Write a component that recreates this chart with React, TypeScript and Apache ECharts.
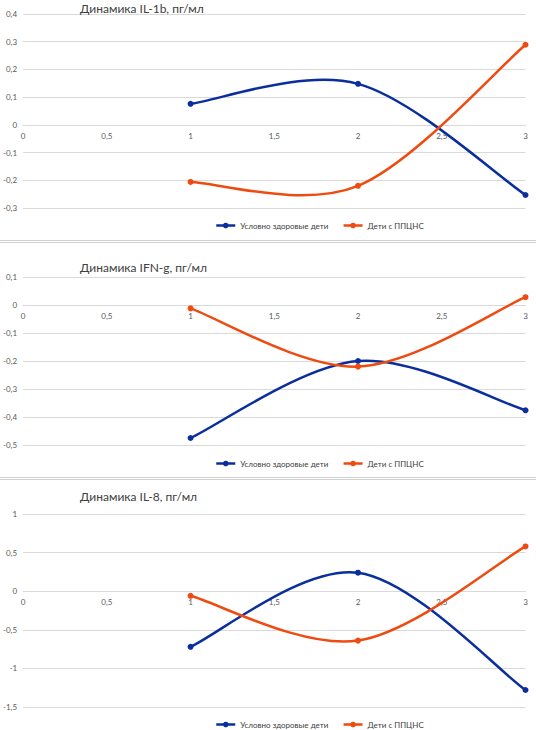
import React, { useEffect, useRef } from "react";
import * as echarts from "echarts";

const xValues = [1, 2, 3];
const seriesNames = ["Условно здоровые дети", "Дети с ППЦНС"];
const titles = ["Динамика IL-1b, пг/мл", "Динамика IFN-g, пг/мл", "Динамика IL-8, пг/мл"];

const il1bHealthy = [0.076, 0.148, -0.253];
const il1bPpcns = [-0.206, -0.22, 0.289];
const ifngHealthy = [-0.475, -0.2, -0.376];
const ifngPpcns = [-0.012, -0.22, 0.028];
const il8Healthy = [-0.72, 0.24, -1.28];
const il8Ppcns = [-0.06, -0.64, 0.58];

const yMins = [-0.3, -0.5, -1.5];
const yMaxs = [0.4, 0.1, 1];
const yIntervals = [0.1, 0.1, 0.5];

const BLUE = "#0a2e9e";
const ORANGE = "#ee4b10";
const FONT = "Lato";

const fmt = (v: number) => String(Math.round(v * 10) / 10).replace(".", ",");

export default function App() {
  const ref = useRef<HTMLDivElement>(null);
  useEffect(() => {
    if (!ref.current) return;
    const chart = echarts.init(ref.current, undefined, { renderer: "svg" });
    const healthy = [il1bHealthy, ifngHealthy, il8Healthy];
    const ppcns = [il1bPpcns, ifngPpcns, il8Ppcns];
    const grids = [
      { left: 23, top: 14, width: 502.5, height: 194 },
      { left: 23, top: 277, width: 502.5, height: 168 },
      { left: 23, top: 514, width: 502.5, height: 193 },
    ];
    const titleTops = [2, 261, 490];
    const legendTops = [221.5, 459.5, 720.5];

    const lineSeries: any[] = [];
    const curveSeries: any[] = [];
    [0, 1, 2].forEach((i) => {
      [healthy[i], ppcns[i]].forEach((arr, k) => {
        const col = k === 0 ? BLUE : ORANGE;
        const data = xValues.map((x, j) => [x, arr[j]]);
        lineSeries.push({
          name: seriesNames[k],
          type: "line",
          xAxisIndex: i,
          yAxisIndex: i,
          symbol: "circle",
          symbolSize: 6,
          z: 3,
          color: col,
          lineStyle: { width: 2.5, color: col, opacity: 0 },
          itemStyle: { color: col },
          data,
        });
        curveSeries.push({
          name: seriesNames[k],
          type: "custom",
          xAxisIndex: i,
          yAxisIndex: i,
          z: 2,
          silent: true,
          data,
          renderItem: (params: any, api: any) => {
            const idx = params.dataIndex;
            const n = data.length;
            if (idx >= n - 1) return null;
            const P = (j: number) => {
              const jj = Math.max(0, Math.min(n - 1, j));
              return api.coord(data[jj]);
            };
            const p0 = P(idx - 1);
            const p1 = P(idx);
            const p2 = P(idx + 1);
            const p3 = P(idx + 2);
            return {
              type: "bezierCurve",
              shape: {
                x1: p1[0],
                y1: p1[1],
                x2: p2[0],
                y2: p2[1],
                cpx1: p1[0] + (p2[0] - p0[0]) / 6,
                cpy1: p1[1] + (p2[1] - p0[1]) / 6,
                cpx2: p2[0] - (p3[0] - p1[0]) / 6,
                cpy2: p2[1] - (p3[1] - p1[1]) / 6,
              },
              style: { stroke: col, lineWidth: 2.5, fill: "none", lineCap: "round" },
            };
          },
        });
      });
    });

    chart.setOption({
      animation: false,
      backgroundColor: "#ffffff",
      textStyle: { fontFamily: FONT },
      title: titles.map((t, i) => ({
        text: t,
        left: 80,
        top: titleTops[i],
        padding: 0,
        textStyle: { fontFamily: FONT, fontSize: 12, fontWeight: "normal", color: "#404040" },
      })),
      legend: legendTops.map((top) => ({
        data: seriesNames,
        left: 215,
        top,
        itemWidth: 19,
        itemHeight: 7,
        itemGap: 14,
        padding: 0,
        lineStyle: { opacity: 1, width: 2.5 },
        textStyle: { fontFamily: FONT, fontSize: 8, color: "#404040" },
      })),
      grid: grids,
      xAxis: [0, 1, 2].map((i) => ({
        type: "value",
        gridIndex: i,
        min: 0,
        max: 3,
        interval: 0.5,
        position: "bottom",
        offset: -(grids[i].height * (0 - yMins[i])) / (yMaxs[i] - yMins[i]),
        axisLine: { show: true, onZero: false, lineStyle: { color: "#d9d9d9", width: 1 } },
        axisTick: { show: false },
        splitLine: { show: false },
        axisLabel: {
          fontFamily: FONT,
          fontSize: 8,
          color: "#595959",
          margin: 7,
          formatter: fmt,
        },
      })),
      yAxis: [0, 1, 2].map((i) => ({
        type: "value",
        gridIndex: i,
        min: yMins[i],
        max: yMaxs[i],
        interval: yIntervals[i],
        axisLine: { show: false },
        axisTick: { show: false },
        splitLine: { show: true, lineStyle: { color: "#d9d9d9", width: 1 } },
        axisLabel: {
          fontFamily: FONT,
          fontSize: 8,
          color: "#595959",
          margin: 6,
          formatter: fmt,
        },
      })),
      graphic: [240.5, 242.5, 477.5, 479.5].map((y) => ({
        type: "line",
        shape: { x1: 0, y1: y, x2: 536, y2: y },
        style: { stroke: "#d0d0d0", lineWidth: 1 },
        silent: true,
      })),
      series: [...lineSeries, ...curveSeries],
    });
    return () => chart.dispose();
  }, []);
  return (
    <div
      ref={ref}
      style={{ position: "absolute", left: 0, top: 0, width: 536, height: 730 }}
    />
  );
}
